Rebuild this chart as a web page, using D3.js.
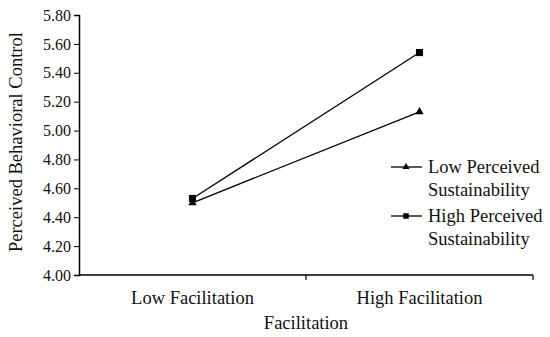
<!DOCTYPE html>
<html>
<head>
<meta charset="utf-8">
<script src="https://cdn.jsdelivr.net/npm/d3@7"></script>
<style>
  body { margin: 0; background: #fff; }
</style>
</head>
<body>
<div id="chart"></div>
<script>
// data
const categories = ["Low Facilitation", "High Facilitation"];
const seriesNames = ["Low Perceived Sustainability", "High Perceived Sustainability"];
const lowSustain = [4.50, 5.13];
const highSustain = [4.53, 5.54];
const yTicks = [4.00, 4.20, 4.40, 4.60, 4.80, 5.00, 5.20, 5.40, 5.60, 5.80];

const FONT = "'Liberation Serif'";
const width = 550, height = 337;
const margin = {left: 79, right: 17, top: 15, bottom: 62};

const svg = d3.select("#chart").append("svg")
    .attr("width", width)
    .attr("height", height);

let x = d3.scaleBand()
    .domain(categories)
    .range([margin.left, width - margin.right]);

let y = d3.scaleLinear()
    .domain([4.0, 5.8])
    .range([height - margin.bottom, margin.top]);

// y axis
let yAxis = d3.axisLeft(y).tickValues(yTicks).tickFormat(d3.format(".2f")).tickSizeOuter(0).tickSize(5);
let gy = svg.append("g")
    .attr("transform", `translate(${margin.left},0)`)
    .call(yAxis);
gy.selectAll("text")
    .style("font-family", FONT)
    .style("font-size", "16px")
    .attr("fill", "#111")
    .attr("x", -8);
gy.select(".domain").attr("stroke-width", 1.5);

// x axis - ticks at band edges
let xEdges = [x.range()[0] + x.bandwidth(), x.range()[1]];
let gx = svg.append("g");
gx.append("line")
    .attr("x1", x.range()[0]).attr("x2", x.range()[1])
    .attr("y1", y(4.0)).attr("y2", y(4.0))
    .attr("stroke", "#000").attr("stroke-width", 1.5);
gx.selectAll("line.tk").data(xEdges).enter().append("line")
    .attr("class", "tk")
    .attr("x1", d => d).attr("x2", d => d)
    .attr("y1", y(4.0)).attr("y2", y(4.0) + 5)
    .attr("stroke", "#000").attr("stroke-width", 1.2);
gx.selectAll("text").data(categories).enter().append("text")
    .attr("x", d => x(d) + x.bandwidth() / 2)
    .attr("y", y(4.0) + 29)
    .attr("text-anchor", "middle")
    .style("font-family", FONT)
    .style("font-size", "18.5px")
    .attr("fill", "#111")
    .text(d => d);

// axis titles
svg.append("text")
    .attr("x", x(categories[0]) + x.bandwidth())
    .attr("y", 329)
    .attr("text-anchor", "middle")
    .style("font-family", FONT)
    .style("font-size", "18.5px")
    .attr("fill", "#111")
    .text("Facilitation");

svg.append("text")
    .attr("transform", `translate(22,${y(4.92)}) rotate(-90)`)
    .attr("text-anchor", "middle")
    .style("font-family", FONT)
    .style("font-size", "18.5px")
    .attr("fill", "#111")
    .text("Perceived Behavioral Control");

// lines
let line = d3.line()
    .x((d, i) => x(categories[i]) + x.bandwidth() / 2)
    .y(d => y(d));

const triangle = d3.symbol().type(d3.symbolTriangle).size(30);
const square = d3.symbol().type(d3.symbolSquare).size(50);

[[lowSustain, triangle], [highSustain, square]].forEach(([vals, sym]) => {
    svg.append("path")
        .datum(vals)
        .attr("d", line)
        .attr("fill", "none")
        .attr("stroke", "#000")
        .attr("stroke-width", 1.3);
    svg.selectAll(null).data(vals).enter().append("path")
        .attr("d", sym)
        .attr("transform", (d, i) => `translate(${x(categories[i]) + x.bandwidth() / 2},${y(d)})`)
        .attr("fill", "#000");
});

// legend
let legend = svg.append("g");
let legendItems = [
    {lines: ["Low Perceived", "Sustainability"], sym: d3.symbol().type(d3.symbolTriangle).size(22), y: 167},
    {lines: ["High Perceived", "Sustainability"], sym: d3.symbol().type(d3.symbolSquare).size(30), y: 216}
];
legendItems.forEach(item => {
    legend.append("line")
        .attr("x1", 391).attr("x2", 422)
        .attr("y1", item.y).attr("y2", item.y)
        .attr("stroke", "#000").attr("stroke-width", 1.3);
    legend.append("path")
        .attr("d", item.sym)
        .attr("transform", `translate(406,${item.y})`)
        .attr("fill", "#000");
    item.lines.forEach((t, i) => {
        legend.append("text")
            .attr("x", 428)
            .attr("y", item.y + 6 + i * 23)
            .style("font-family", FONT)
            .style("font-size", "18.5px")
            .attr("fill", "#111")
            .text(t);
    });
});
</script>
</body>
</html>
